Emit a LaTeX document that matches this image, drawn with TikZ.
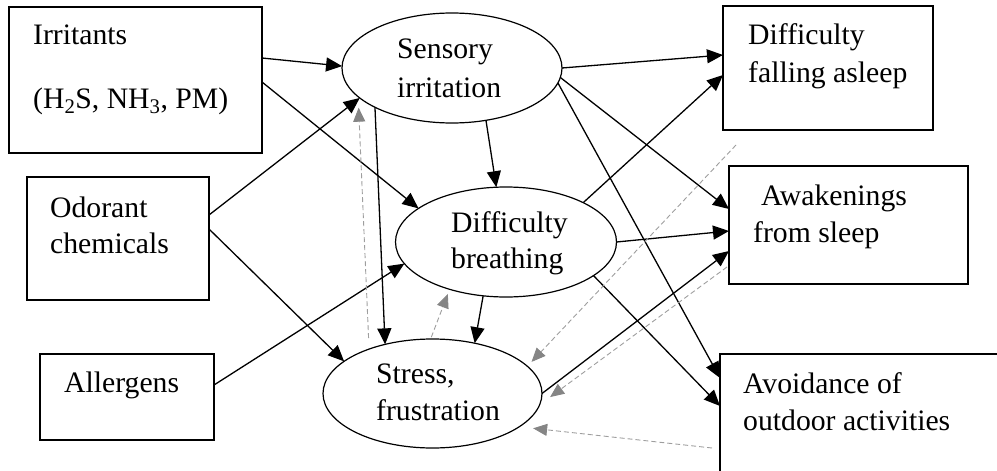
\documentclass[tikz,border=0pt]{standalone}
\usepackage{fontspec}
\setmainfont{Liberation Serif}
\usetikzlibrary{arrows.meta,shapes.geometric}
\begin{document}
\begin{tikzpicture}[x=1pt,y=-1pt,
  box/.style={draw, line width=1.8pt, rectangle, inner sep=0pt, outer sep=0pt},
  ell/.style={draw, line width=1.2pt, ellipse, inner sep=0pt, outer sep=0pt},
  txt/.style={anchor=base west, inner sep=0pt, font=\fontsize{29.7pt}{36pt}\selectfont},
  arr/.style={line width=1.3pt, -{Triangle[length=16pt,width=14pt]}},
  garr/.style={line width=0.9pt, draw=black!38, dash pattern=on 5pt off 3pt,
    -{Triangle[length=14pt,width=12pt,color=black!48]}}
]
\useasboundingbox (0,0) rectangle (997,471);
\clip (0,0) rectangle (997,471);

% boxes
\node[box, minimum width=253pt, minimum height=146pt] (irr) at (135.5,80) {};
\node[box, minimum width=182pt, minimum height=123pt] (odo) at (118,238.5) {};
\node[box, minimum width=174pt, minimum height=86pt] (all) at (127,397) {};
\node[box, minimum width=210pt, minimum height=124pt] (dfa) at (828,68) {};
\node[box, minimum width=239pt, minimum height=118pt] (awk) at (848.5,225) {};
\node[box, minimum width=280pt, minimum height=126pt] (avo) at (860,417) {};

% ellipses
\node[ell, minimum width=220pt, minimum height=110pt] (sens) at (452,68) {};
\node[ell, minimum width=221pt, minimum height=110pt] (brea) at (506,242) {};
\node[ell, minimum width=219pt, minimum height=109pt] (str) at (432.5,393.5) {};

% texts
\node[txt] (tirr1) at (33,45) {Irritants};
\node[txt] (tirr2) at (33,108) {(H\textsubscript{2}S, NH\textsubscript{3}, PM)};
\node[txt] (todo1) at (50,217) {Odorant};
\node[txt] (todo2) at (50,253) {chemicals};
\node[txt] (tall) at (64,392) {Allergens};
\node[txt] (tsens1) at (397,58) {Sensory};
\node[txt] (tsens2) at (397,97) {irritation};
\node[txt] (tbrea1) at (451,232) {Difficulty};
\node[txt] (tbrea2) at (451,268) {breathing};
\node[txt] (tstr1) at (376,383) {Stress,};
\node[txt] (tstr2) at (376,420) {frustration};
\node[txt] (tdfa1) at (748,45) {Difficulty};
\node[txt] (tdfa2) at (748,82) {falling asleep};
\node[txt] (tawk1) at (761,205) {Awakenings};
\node[txt] (tawk2) at (753,242) {from sleep};
\node[txt] (tavo1) at (743,393) {Avoidance of};
\node[txt] (tavo2) at (743,430) {outdoor activities};

% solid arrows
\draw[arr] ([yshift=22pt]irr.east) -- (sens.179);
\draw[arr] ([yshift=-2pt]irr.east) -- (brea.159.6);
\draw[arr] ([yshift=23.5pt]odo.east) -- (sens.-162);
\draw[arr] ([yshift=9.5pt]odo.east) -- (str.160.3);
\draw[arr] ([yshift=12pt]all.east) -- (brea.192.2);
\draw[arr] (sens.-153.7) -- (str.134.4);
\draw[arr] (sens.-57.8) -- (brea.100.6);
\draw[arr] (brea.-113) -- (str.50.5);
\draw[arr] (sens.0) -- ([yshift=13pt]dfa.west);
\draw[arr] (brea.27.5) -- ([yshift=-7pt]dfa.west);
\draw[arr] (sens.-5) -- ([yshift=16pt]awk.west);
\draw[arr] (sens.-8) -- ([yshift=39pt]avo.west);
\draw[arr] (brea.0) -- ([yshift=-6pt]awk.west);
\draw[arr] (str.0) -- ([yshift=-26pt]awk.west);
\draw[arr] (brea.-21.5) -- ([yshift=11pt]avo.west);

% dashed gray arrows
\coordinate (gc) at (736,145);
\coordinate (gd) at (727,267);
\coordinate (ge) at (712,448);
\draw[garr, shorten <=11pt, shorten >=11pt] (str.145) -- (sens.-163);
\draw[garr, shorten <=2pt, shorten >=5pt] (str.92.5) -- (brea.-140.8);
\draw[garr, shorten >=6pt] (gc) -- (str.16.4);
\draw[garr, shorten >=13pt] (gd) -- (str.-6);
\draw[garr, shorten >=14pt] (ge) -- (str.-21);
\end{tikzpicture}
\end{document}
